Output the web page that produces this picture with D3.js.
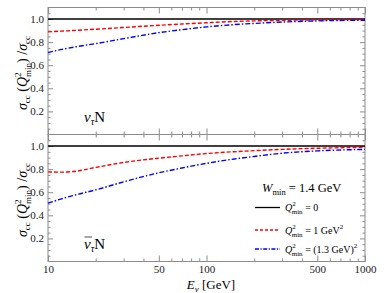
<!DOCTYPE html>
<html>
<head>
<meta charset="utf-8">
<script src="https://cdn.jsdelivr.net/npm/d3@7"></script>
<style>
	body{margin:0;background:#fff;}
	svg text{font-family:"Liberation Serif","DejaVu Serif",serif;}
	.frame{fill:none;stroke:#8c8c8c;stroke-width:1;}
	.tick line{stroke:#8c8c8c;}
	.tick text{fill:#222;font-size:11px;font-family:"Liberation Serif",serif;}
	.domain{display:none;}
</style>
</head>
<body>
<svg width="390" height="293"></svg>
<script>
// energies in GeV
const energies = [10, 12, 15, 20, 30, 50, 70, 100, 150, 200, 300, 500, 1000];
// nu_tau N
const nuQ1 = [0.889, 0.895, 0.902, 0.912, 0.927, 0.946, 0.957, 0.968, 0.979, 0.984, 0.989, 0.993, 0.996];
const nuQ13 = [0.710, 0.735, 0.760, 0.787, 0.830, 0.882, 0.908, 0.932, 0.952, 0.962, 0.974, 0.984, 0.990];
// anti-nu_tau N
const nubarQ1 = [0.776, 0.774, 0.782, 0.815, 0.858, 0.895, 0.915, 0.935, 0.951, 0.960, 0.971, 0.981, 0.989];
const nubarQ13 = [0.506, 0.540, 0.578, 0.620, 0.690, 0.768, 0.810, 0.850, 0.888, 0.910, 0.938, 0.958, 0.971];

const xMajor = [10, 50, 100, 500, 1000];
const xMinor = [20, 30, 40, 60, 70, 80, 90, 200, 300, 400, 600, 700, 800, 900];
const yMajor = [0.2, 0.4, 0.6, 0.8, 1.0];
const yMinor = d3.range(0.05, 1.1, 0.05).filter(v => !yMajor.some(m => Math.abs(m - v) < 1e-6));

const svg = d3.select("svg");
const left = 48, right = 365, top0 = 7.5, panelH = 127;

const x = d3.scaleLog().domain([10, 1000]).range([left, right]);

const panels = [
	{top: top0, red: nuQ1, blue: nuQ13, bar: false, labels: false},
	{top: top0 + panelH, red: nubarQ1, blue: nubarQ13, bar: true, labels: true}
];

const series = (vals) => energies.map((e, i) => [e, vals[i]]);

panels.forEach(p => {
	const y = d3.scaleLinear().domain([0, 1.1]).range([p.top + panelH, p.top]);
	const g = svg.append("g");

	// ticks, inward on all four sides
	const addAxis = (axis, tr) => g.append("g").attr("transform", tr).call(axis).attr("font-family", null);
	addAxis(d3.axisLeft(y).tickValues(yMajor).tickSize(-5).tickPadding(4).tickFormat(d3.format(".1f")), `translate(${left},0)`);
	addAxis(d3.axisLeft(y).tickValues(yMinor).tickSize(-2.5).tickFormat(""), `translate(${left},0)`);
	addAxis(d3.axisRight(y).tickValues(yMajor).tickSize(-5).tickFormat(""), `translate(${right},0)`);
	addAxis(d3.axisRight(y).tickValues(yMinor).tickSize(-2.5).tickFormat(""), `translate(${right},0)`);
	addAxis(d3.axisBottom(x).tickValues(xMajor).tickSize(-6).tickPadding(4).tickFormat(p.labels ? d3.format("d") : ""), `translate(0,${p.top + panelH})`);
	addAxis(d3.axisBottom(x).tickValues(xMinor).tickSize(-3).tickFormat(""), `translate(0,${p.top + panelH})`);
	addAxis(d3.axisTop(x).tickValues(xMajor).tickSize(-6).tickFormat(""), `translate(0,${p.top})`);
	addAxis(d3.axisTop(x).tickValues(xMinor).tickSize(-3).tickFormat(""), `translate(0,${p.top})`);

	g.append("rect").attr("class", "frame")
		.attr("x", left).attr("y", p.top).attr("width", right - left).attr("height", panelH);

	const line = d3.line().x(d => x(d[0])).y(d => y(d[1])).curve(d3.curveMonotoneX);
	g.append("path").datum([[10, 1], [1000, 1]]).attr("d", line)
		.attr("fill", "none").attr("stroke", "#000").attr("stroke-width", 1.6);
	g.append("path").datum(series(p.red)).attr("d", line)
		.attr("fill", "none").attr("stroke", "#f00").attr("stroke-width", 1.4).attr("stroke-dasharray", "4,2");
	g.append("path").datum(series(p.blue)).attr("d", line)
		.attr("fill", "none").attr("stroke", "#00f").attr("stroke-width", 1.4).attr("stroke-dasharray", "5,2,1.5,2");

	// panel label
	const by = p.top + panelH - 13;
	const lab = g.append("text").attr("x", 84).attr("y", by).attr("font-size", 15);
	lab.append("tspan").attr("font-style", "italic").text("\u03BD");
	lab.append("tspan").attr("font-style", "italic").attr("font-size", 10).attr("dy", 3).text("\u03C4");
	lab.append("tspan").attr("dy", -3).text("N");
	if (p.bar) {
		g.append("line").attr("x1", 84.5).attr("x2", 92).attr("y1", by - 11.5).attr("y2", by - 11.5)
			.attr("stroke", "#222").attr("stroke-width", 0.8);
	}

	// y label
	const yl = g.append("text").attr("transform", `translate(27,${p.top + panelH / 2 + 2}) rotate(-90)`)
		.attr("text-anchor", "middle").attr("font-size", 14);
	yl.append("tspan").attr("font-style", "italic").text("\u03C3");
	yl.append("tspan").attr("font-size", 9).attr("dy", 3).text("cc");
	yl.append("tspan").attr("dy", -3).text(" (");
	yl.append("tspan").attr("font-style", "italic").text("Q");
	yl.append("tspan").attr("font-size", 9).attr("dy", -6).text("2");
	yl.append("tspan").attr("font-size", 9).attr("dx", -4.5).attr("dy", 10).text("min");
	yl.append("tspan").attr("dy", -4).text(") /");
	yl.append("tspan").attr("font-style", "italic").text("\u03C3");
	yl.append("tspan").attr("font-size", 9).attr("dy", 3).text("cc");
});

// x label
const xl = svg.append("text").attr("x", 211).attr("y", 289).attr("text-anchor", "middle").attr("font-size", 13);
xl.append("tspan").attr("font-style", "italic").text("E");
xl.append("tspan").attr("font-style", "italic").attr("font-size", 9).attr("dy", 3).text("\u03BD");
xl.append("tspan").attr("dy", -3).text(" [GeV]");

// legend
const leg = svg.append("g").attr("font-size", 10);
const wt = leg.append("text").attr("x", 262).attr("y", 192).attr("font-size", 12.5);
wt.append("tspan").attr("font-style", "italic").text("W");
wt.append("tspan").attr("font-size", 8.5).attr("dy", 3).text("min");
wt.append("tspan").attr("dy", -3).text(" =  1.4 GeV");

const legItems = [
	{stroke: "#000000", dash: null, y: 207.5, rest: " = 0", sup: null},
	{stroke: "#ff0000", dash: "3,2", y: 230, rest: " = 1 GeV", sup: "2"},
	{stroke: "#0000ff", dash: "4,1.5,1.2,1.5", y: 249, rest: " = (1.3 GeV)", sup: "2"}
];
legItems.forEach(it => {
	leg.append("path").attr("d", `M255,${it.y}H280`)
		.attr("fill", "none").attr("stroke", it.stroke).attr("stroke-width", it.dash ? 1.3 : 1.3)
		.attr("stroke-dasharray", it.dash);
	const t = leg.append("text").attr("x", 285).attr("y", it.y + 3.5);
	t.append("tspan").attr("font-style", "italic").text("Q");
	t.append("tspan").attr("font-size", 7).attr("dy", -5).text("2");
	t.append("tspan").attr("font-size", 7).attr("dx", -4).attr("dy", 8).text("min");
	t.append("tspan").attr("dy", -3).text(it.rest);
	if (it.sup) t.append("tspan").attr("font-size", 7).attr("dy", -5).text(it.sup);
});
</script>
</body>
</html>
